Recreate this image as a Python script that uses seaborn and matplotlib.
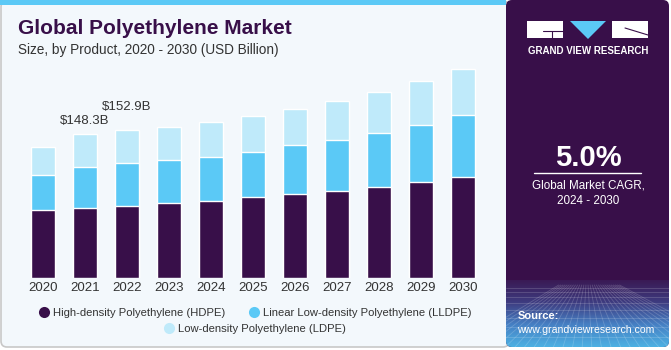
import numpy as np
import pandas as pd
import matplotlib.pyplot as plt
import seaborn as sns
from matplotlib.patches import FancyBboxPatch, Rectangle, Polygon
from matplotlib.lines import Line2D

# data (USD billion)
years = [str(y) for y in range(2020, 2031)]
hdpe = [69.7, 71.8, 74.1, 77.5, 79.6, 83.1, 86.2, 89.6, 93.4, 98.9, 103.7]
lldpe = [36.4, 42.8, 44.6, 44.3, 45.0, 46.7, 50.8, 52.5, 55.9, 58.7, 63.9]
ldpe = [28.5, 33.7, 34.2, 33.7, 35.7, 37.1, 36.8, 40.2, 42.2, 45.0, 47.4]
segments = ["High-density Polyethylene (HDPE)",
            "Linear Low-density Polyethylene (LLDPE)",
            "Low-density Polyethylene (LDPE)"]
callout_years = ["2021", "2022"]
callout_labels = ["$148.3B", "$152.9B"]

colors = ["#380F49", "#5BC9F6", "#BFEAFA"]
purple = "#380F49"
bg = "#F3F8FC"

sns.set_theme(style="white")
plt.rcParams['font.family'] = ['Liberation Sans', 'DejaVu Sans']

df = pd.DataFrame({"year": years, "hdpe": hdpe, "lldpe": lldpe, "ldpe": ldpe})
df["c1"] = df["hdpe"]
df["c2"] = df["hdpe"] + df["lldpe"]
df["c3"] = df["c2"] + df["ldpe"]

W, H = 671, 350
fig = plt.figure(figsize=(W / 100, H / 100), dpi=100)

# background decoration in pixel coords
bga = fig.add_axes([0, 0, 1, 1])
bga.set_xlim(0, W)
bga.set_ylim(H, 0)
bga.axis("off")
bga.add_patch(FancyBboxPatch((1, 1), 508, 346, boxstyle="round,pad=0,rounding_size=6",
                             fc=bg, ec="#C8C8C8", lw=1.2))
bga.add_patch(Rectangle((0, 0), 506, 5, fc="#5BC9F6", ec="none"))
panel = FancyBboxPatch((506, 0), 163, 347, boxstyle="round,pad=0,rounding_size=6",
                       fc=purple, ec="none")
bga.add_patch(panel)
grad = np.linspace(0, 1, 100)[:, None]
cmap = sns.blend_palette(["#3A1A55", "#3E3C80", "#4680C4", "#4DB0E2"], as_cmap=True)
im = bga.imshow(grad, extent=(506, 669, 347, 280), cmap=cmap, aspect="auto", zorder=2)
im.set_clip_path(panel)
# faint grid of the floor
for i in range(0, 30):
    x0 = 506 + i * 6
    bga.plot([587 + (x0 - 587) * 0.35, x0 + (x0 - 587) * 0.6], [285, 347],
             color="white", alpha=0.18, lw=0.6, zorder=3, clip_path=panel)
for yy in [288, 292, 297, 303, 310, 318, 327, 337]:
    bga.plot([506, 669], [yy, yy], color="white", alpha=0.18, lw=0.6, zorder=3, clip_path=panel)

# logo
bga.add_patch(Rectangle((527, 21), 36, 17, fc="white", ec="none", zorder=4))
bga.add_patch(Polygon([(570, 21), (606, 21), (588, 39)], fc="#5BC9F6", ec="none", zorder=4))
bga.add_patch(Rectangle((612, 21), 36, 17, fc="white", ec="none", zorder=4))
bga.plot([543, 563], [31, 31], color=purple, lw=0.8, zorder=5)
bga.plot([552, 552], [31, 38], color=purple, lw=0.8, zorder=5)
bga.plot([625, 648], [28, 35], color=purple, lw=0.8, zorder=5)
bga.text(588, 51, "GRAND VIEW RESEARCH", color="white", fontsize=7, fontweight="bold",
         ha="center", va="center", zorder=5)

bga.text(588, 158, "5.0%", color="white", fontsize=21, fontweight="bold", ha="center", va="center")
bga.plot([534, 641], [173, 173], color="white", lw=1)
bga.text(588, 185, "Global Market CAGR,", color="white", fontsize=8.4, ha="center", va="center")
bga.text(588, 201, "2024 - 2030", color="white", fontsize=8.4, ha="center", va="center")
bga.text(518, 316, "Source:", color="white", fontsize=8, fontweight="bold", ha="left", va="center", zorder=5)
bga.text(517, 330, "www.grandviewresearch.com", color="white", fontsize=7.6, ha="left", va="center", zorder=5)

bga.text(18, 29, "Global Polyethylene Market", color=purple, fontsize=15, fontweight="bold",
         ha="left", va="center")
bga.text(18, 50, "Size, by Product, 2020 - 2030 (USD Billion)", color="#333333", fontsize=9.8,
         ha="left", va="center")

# chart axes
ax_l, ax_r, ax_b, ax_t = 22, 484, 278, 55
ax = fig.add_axes([ax_l / W, 1 - ax_b / H, (ax_r - ax_l) / W, (ax_b - ax_t) / H])
ax.patch.set_alpha(0)
for col, c in zip(["c3", "c2", "c1"], colors[::-1]):
    sns.barplot(data=df, x="year", y=col, color=c, width=0.57, saturation=1, ax=ax)
ax.set_xlim(-0.5, 10.5)
ax.set_ylim(0, 148.3 * 223 / 144)
ax.set_xlabel("")
ax.set_ylabel("")
ax.set_yticks([])
sns.despine(ax=ax, left=True, bottom=True)
ax.tick_params(axis="x", length=0, pad=3, labelsize=9.5, labelcolor="#333333")

offsets = [5, 12]
for yr, lab, off in zip(callout_years, callout_labels, offsets):
    i = years.index(yr)
    ax.annotate(lab, (i, df["c3"][i]), xytext=(0, off), textcoords="offset points",
                ha="center", va="bottom", fontsize=9.5, color="#333333")

def handle(c):
    return Line2D([], [], marker="o", ls="none", markersize=8, markerfacecolor=c, markeredgecolor="none")

leg1 = fig.legend([handle(colors[0]), handle(colors[1])], segments[:2], ncol=2,
                  loc="center", bbox_to_anchor=(255 / W, 1 - 313 / H), frameon=False,
                  fontsize=8.1, handletextpad=0.3, columnspacing=2.0, handlelength=1)
leg2 = fig.legend([handle(colors[2])], segments[2:], loc="center",
                  bbox_to_anchor=(255 / W, 1 - 329 / H), frameon=False,
                  fontsize=8.1, handletextpad=0.3, handlelength=1)
for lg in (leg1, leg2):
    for t in lg.get_texts():
        t.set_color("#333333")

fig.savefig("out.png", dpi=100, facecolor="white")
